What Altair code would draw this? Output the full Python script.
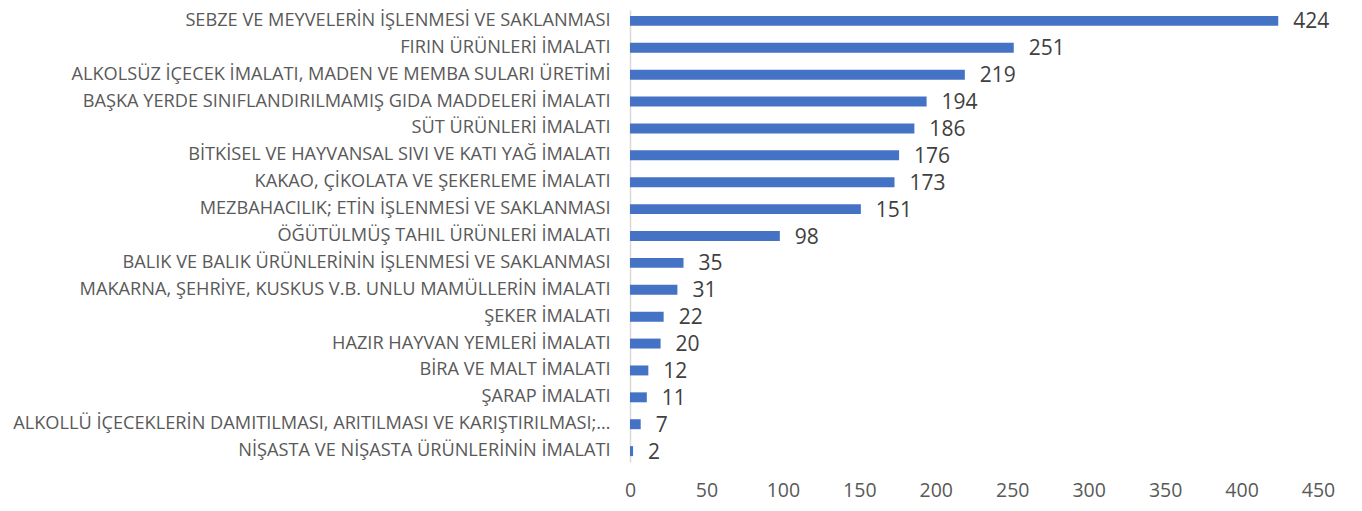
import altair as alt
import pandas as pd

categories = [
    "SEBZE VE MEYVELERİN İŞLENMESİ VE SAKLANMASI",
    "FIRIN ÜRÜNLERİ İMALATI",
    "ALKOLSÜZ İÇECEK İMALATI, MADEN VE MEMBA SULARI ÜRETİMİ",
    "BAŞKA YERDE SINIFLANDIRILMAMIŞ GIDA MADDELERİ İMALATI",
    "SÜT ÜRÜNLERİ İMALATI",
    "BİTKİSEL VE HAYVANSAL SIVI VE KATI YAĞ İMALATI",
    "KAKAO, ÇİKOLATA VE ŞEKERLEME İMALATI",
    "MEZBAHACILIK; ETİN İŞLENMESİ VE SAKLANMASI",
    "ÖĞÜTÜLMÜŞ TAHIL ÜRÜNLERİ İMALATI",
    "BALIK VE BALIK ÜRÜNLERİNİN İŞLENMESİ VE SAKLANMASI",
    "MAKARNA, ŞEHRİYE, KUSKUS V.B. UNLU MAMÜLLERİN İMALATI",
    "ŞEKER İMALATI",
    "HAZIR HAYVAN YEMLERİ İMALATI",
    "BİRA VE MALT İMALATI",
    "ŞARAP İMALATI",
    "ALKOLLÜ İÇECEKLERİN DAMITILMASI, ARITILMASI VE KARIŞTIRILMASI;…",
    "NİŞASTA VE NİŞASTA ÜRÜNLERİNİN İMALATI",
]
values = [424, 251, 219, 194, 186, 176, 173, 151, 98, 35, 31, 22, 20, 12, 11, 7, 2]
x_ticks = [0, 50, 100, 150, 200, 250, 300, 350, 400, 450]

df = pd.DataFrame({"cat": categories, "val": values})

FONT = "Open Sans"

y_enc = alt.Y(
    "cat:N",
    sort=None,
    title=None,
    scale=alt.Scale(paddingInner=0.63, paddingOuter=0.22),
    axis=alt.Axis(
        ticks=False,
        domain=True,
        domainColor="#D9D9D9",
        domainWidth=1.5,
        labelFont=FONT,
        labelFontSize=18.2,
        labelColor="#595959",
        labelPadding=20,
        labelLimit=1000,
        grid=False,
    ),
)
x_enc = alt.X(
    "val:Q",
    title=None,
    scale=alt.Scale(domain=[0, 450], nice=False),
    axis=alt.Axis(
        values=x_ticks,
        ticks=False,
        domain=False,
        grid=False,
        labelFlush=False,
        labelFont=FONT,
        labelFontSize=19.5,
        labelColor="#595959",
        labelPadding=19,
    ),
)

bars = alt.Chart(df).mark_bar(color="#4472C4").encode(x=x_enc, y=y_enc)
labels = alt.Chart(df).mark_text(
    align="left", baseline="middle", dx=15, dy=1.5, font=FONT, fontSize=21, color="#404040"
).encode(x=alt.X("val:Q"), y=alt.Y("cat:N", sort=None), text="val:Q")

chart = (
    alt.layer(bars, labels)
    .properties(
        width=688,
        height=452,
        autosize=alt.AutoSizeParams(type="none"),
        padding={"left": 622, "top": 2, "right": 36, "bottom": 41},
        view=alt.ViewBackground(strokeWidth=0),
    )
    .configure_view(strokeWidth=0)
    .configure(background="white")
)

chart.save("out.html", embed_options={"renderer": "svg", "actions": False})
